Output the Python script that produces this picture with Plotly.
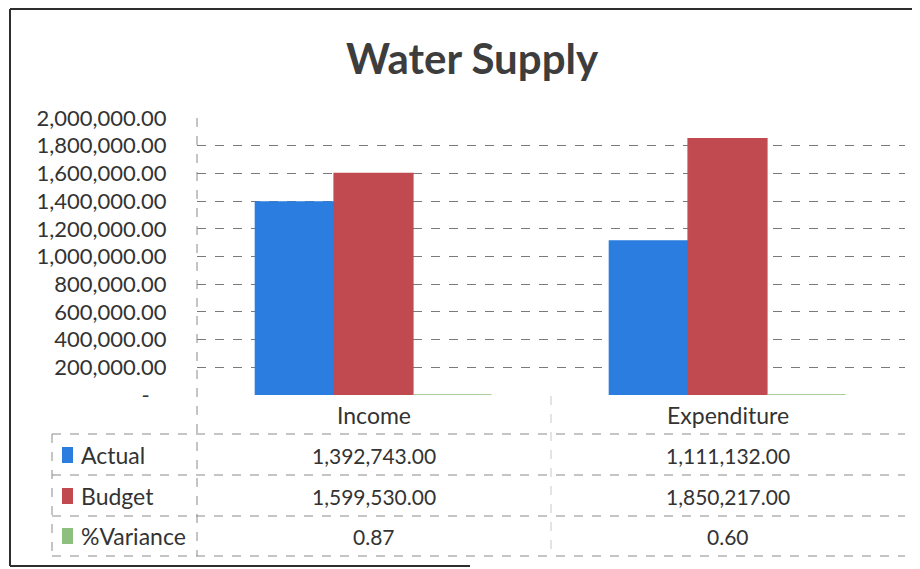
import plotly.graph_objects as go

# data
categories = ["Income", "Expenditure"]
series_names = ["Actual", "Budget", "%Variance"]
actual = [1392743.00, 1111132.00]
budget = [1599530.00, 1850217.00]
variance = [0.87, 0.60]
colors = ["#2b7de0", "#c04a50", "#8dc07e"]

tick_vals = [0, 200000, 400000, 600000, 800000, 1000000, 1200000,
             1400000, 1600000, 1800000, 2000000]
tick_text = ["-\u00a0\u00a0\u00a0"] + ["{:,.2f}".format(v) for v in tick_vals[1:]]

# the page body has an 8px margin, so the figure is drawn 8px in from the corner
OFF = 8
W, H = 920 - OFF, 569 - OFF
FONT = "Lato"
TXT = "#333333"


def px(x):
    return (x - OFF) / W


def py(y):
    return 1 - (y - OFF) / H


fig = go.Figure()
for name, vals, col in zip(series_names, [actual, budget, variance], colors):
    fig.add_trace(go.Bar(
        x=categories,
        y=vals,
        name=name,
        marker=dict(color=col, line=dict(color=col, width=1.5)),
        showlegend=False,
    ))

fig.update_layout(
    width=W,
    height=H,
    margin=dict(l=0, r=0, t=0, b=0, autoexpand=False),
    paper_bgcolor="white",
    plot_bgcolor="white",
    barmode="group",
    bargap=0.333,
    bargroupgap=0,
    showlegend=False,
    font=dict(family=FONT, color=TXT),
    xaxis=dict(
        domain=[px(196.5), px(904.5)],
        showticklabels=False,
        showgrid=False,
        zeroline=False,
        automargin=False,
    ),
    yaxis=dict(
        domain=[py(395), py(118)],
        range=[0, 2000000],
        tickvals=tick_vals,
        ticktext=tick_text,
        tickfont=dict(size=22, family=FONT, color=TXT),
        ticklabelstandoff=29,
        showgrid=True,
        gridcolor="#7a7a7a",
        griddash="dash",
        gridwidth=1,
        zeroline=False,
        automargin=False,
    ),
)

# title
fig.add_annotation(
    text="<b>Water Supply</b>", x=px(473), y=py(58), xref="paper", yref="paper",
    xanchor="center", yanchor="middle",
    showarrow=False, font=dict(size=42, family=FONT, color="#3d3d3d"),
)

# data table: category header
for cat in categories:
    fig.add_annotation(
        text=cat, x=cat, y=py(415), xref="x", yref="paper",
        xanchor="center", yanchor="middle",
        showarrow=False, font=dict(size=23, family=FONT, color=TXT),
    )

# data table rows
row_y = [455, 496, 536]
for name, vals, col, yy in zip(series_names, [actual, budget, variance], colors, row_y):
    fig.add_shape(
        type="rect", xref="paper", yref="paper",
        x0=px(62), x1=px(73), y0=py(yy - 8), y1=py(yy + 8),
        fillcolor=col, line=dict(width=0),
    )
    fig.add_annotation(
        text=name, x=px(79), y=py(yy), xref="paper", yref="paper",
        xanchor="left", yanchor="middle", showarrow=False,
        font=dict(size=23, family=FONT, color=TXT),
    )
    for cat, v in zip(categories, vals):
        fig.add_annotation(
            text="{:,.2f}".format(v), x=cat, y=py(yy), xref="x", yref="paper",
            xanchor="center", yanchor="middle",
            showarrow=False, font=dict(size=21, family=FONT, color=TXT),
        )

# table lines
line_style = dict(color="#8a8a8a", width=1, dash="dash")
for yy in [434, 475, 516, 556]:
    fig.add_shape(type="line", xref="paper", yref="paper",
                  x0=px(52), x1=px(905), y0=py(yy), y1=py(yy), line=line_style)
fig.add_shape(type="line", xref="paper", yref="paper",
              x0=px(52), x1=px(52), y0=py(434), y1=py(556), line=line_style)
fig.add_shape(type="line", xref="paper", yref="paper",
              x0=px(197), x1=px(197), y0=py(118), y1=py(556), line=line_style)
fig.add_shape(type="line", xref="paper", yref="paper",
              x0=px(551), x1=px(551), y0=py(396), y1=py(556),
              line=dict(color="#c8c8c8", width=1, dash="dash"))

# outer chart frame (right side and most of the bottom are lost in the scan)
frame = dict(color="#2e2e2e", width=2)
fig.add_shape(type="line", xref="paper", yref="paper",
              x0=px(10), x1=px(920), y0=py(9), y1=py(9), line=frame)
fig.add_shape(type="line", xref="paper", yref="paper",
              x0=px(10), x1=px(10), y0=py(9), y1=py(566), line=frame)
fig.add_shape(type="line", xref="paper", yref="paper",
              x0=px(10), x1=px(470), y0=py(566), y1=py(566), line=frame)

fig.write_html("out.html")
